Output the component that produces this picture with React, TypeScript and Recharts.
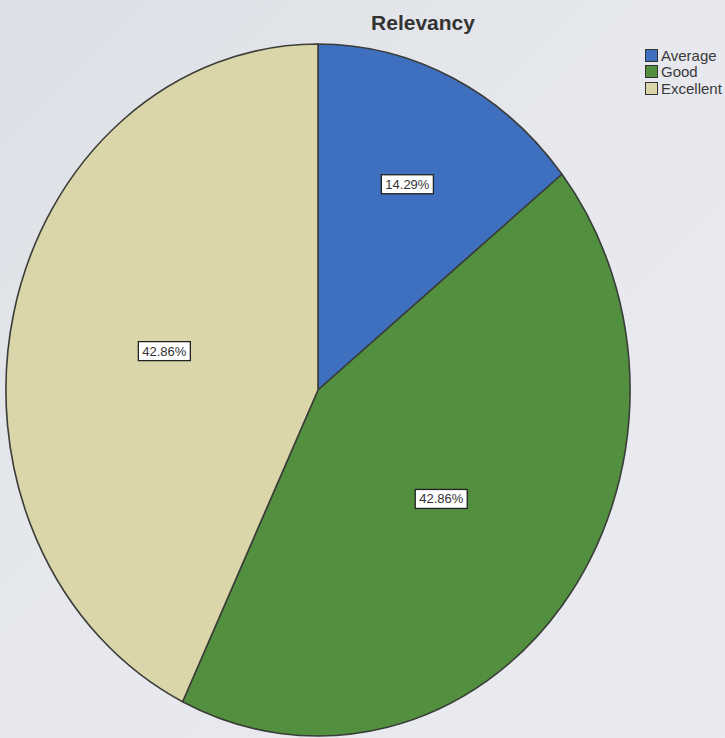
import { PieChart, Pie, Cell, Legend } from 'recharts'

const categories = ['Average', 'Good', 'Excellent']
const counts = [1, 3, 3]
const percentLabels = ['14.29%', '42.86%', '42.86%']

const COLORS = ['#3f6fbf', '#52903f', '#dbd6a9']
const X_SCALE = 0.902 // SPSS pie is drawn slightly squashed, rx / ry

const data = categories.map((name, i) => ({ name, value: counts[i], label: percentLabels[i] }))

const RAD = Math.PI / 180

function ellipsePoint(cx: number, cy: number, r: number, angle: number) {
  return [cx + r * X_SCALE * Math.cos(angle * RAD), cy - r * Math.sin(angle * RAD)]
}

function EllipseSector(props: any) {
  const { cx, cy, outerRadius, startAngle, endAngle, fill } = props
  const [x1, y1] = ellipsePoint(cx, cy, outerRadius, startAngle)
  const [x2, y2] = ellipsePoint(cx, cy, outerRadius, endAngle)
  const large = Math.abs(endAngle - startAngle) > 180 ? 1 : 0
  const sweep = endAngle < startAngle ? 1 : 0
  const d = `M${cx},${cy} L${x1},${y1} A${outerRadius * X_SCALE},${outerRadius} 0 ${large} ${sweep} ${x2},${y2} Z`
  return <path d={d} fill={fill} stroke="#3a3d38" strokeWidth={1.6} strokeLinejoin="round" />
}

function renderLabel(props: any) {
  const { cx, cy, midAngle, outerRadius, percent, index } = props
  const f = percent < 0.2 ? 0.66 : 0.505
  const [x, y] = ellipsePoint(cx, cy, outerRadius * f, midAngle)
  return (
    <g>
      <rect x={x - 26} y={y - 9.5} width={52} height={19} fill="#ffffff" stroke="#222" strokeWidth={1.3} />
      <text
        x={x}
        y={y + 4.5}
        textAnchor="middle"
        fontSize={13}
        fontFamily="'Liberation Sans Narrow', 'Liberation Sans', Arial"
        fill="#333"
      >
        {data[index].label}
      </text>
    </g>
  )
}

function LegendBox({ payload }: any) {
  return (
    <div style={{ fontFamily: "'Liberation Sans Narrow', 'Liberation Sans', Arial", fontSize: 15, color: '#3a3a3a' }}>
      {(payload || []).map((p: any, i: number) => (
        <div key={i} style={{ display: 'flex', alignItems: 'center', height: 16.5 }}>
          <span
            style={{
              display: 'inline-block',
              width: 11,
              height: 11,
              background: COLORS[i],
              border: '1px solid #333',
              marginRight: 3,
            }}
          />
          {categories[i]}
        </div>
      ))}
    </div>
  )
}

export default function App() {
  return (
    <div
      style={{
        position: 'absolute',
        left: 0,
        top: 0,
        width: 725,
        height: 738,
        overflow: 'hidden',
        background: 'linear-gradient(135deg, #dcdfe5 0%, #e6e8ed 45%, #e9ebf0 100%)',
      }}
    >
      <div
        style={{
          position: 'absolute',
          left: 323,
          top: 11,
          width: 200,
          textAlign: 'center',
          fontFamily: "'Liberation Sans', Arial",
          fontWeight: 'bold',
          fontSize: 21,
          color: '#333',
        }}
      >
        Relevancy
      </div>
      <PieChart width={725} height={738} margin={{ top: 0, right: 0, bottom: 0, left: 0 }}>
        <Pie
          data={data}
          dataKey="value"
          nameKey="name"
          cx={318}
          cy={390}
          outerRadius={346}
          startAngle={90}
          endAngle={-270}
          stroke="#3a3d38"
          shape={EllipseSector}
          label={renderLabel}
          labelLine={false}
          isAnimationActive={false}
        >
          {data.map((_, i) => (
            <Cell key={i} fill={COLORS[i]} />
          ))}
        </Pie>
        <Legend
          layout="vertical"
          align="right"
          verticalAlign="top"
          content={<LegendBox />}
          wrapperStyle={{ position: 'absolute', top: 47, left: 645, width: 80 }}
        />
      </PieChart>
    </div>
  )
}
